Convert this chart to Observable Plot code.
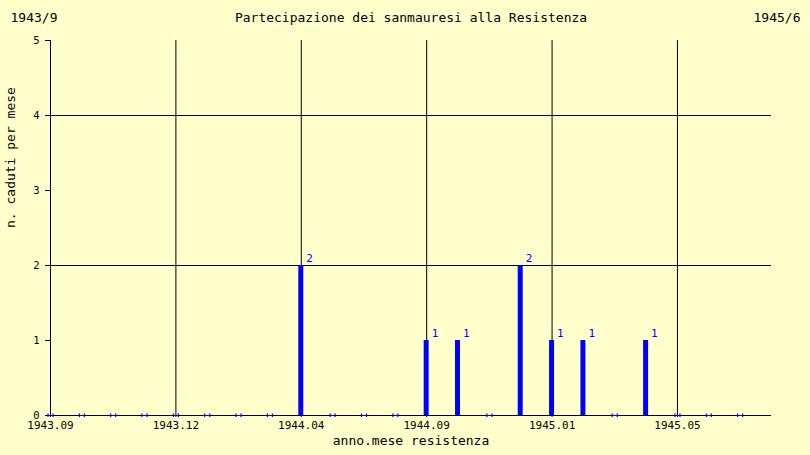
<!DOCTYPE html>
<html><head><meta charset="utf-8">
<script src="https://cdn.jsdelivr.net/npm/d3@7"></script>
<script src="https://cdn.jsdelivr.net/npm/@observablehq/plot@0.6"></script>
<style>body{margin:0;background:#ffffcc}</style>
</head><body><div id="chart"></div>
<script>
// month index from 1943/9
const monthIndex = [0,1,2,3,4,5,6,7,8,9,10,11,12,13,14,15,16,17,18,19,20,21,22];
const caduti     = [0,0,0,0,0,0,0,0,2,0,0,0,1,1,0,2,1,1,0,1,0,0,0];
const tickPos    = [0,4,8,12,16,20];
const tickLabels = ["1943.09","1943.12","1944.04","1944.09","1945.01","1945.05"];
const yTicks     = [0,1,2,3,4,5];
const yGrid      = [2,4];
const titleLeft  = "1943/9";
const titleText  = "Partecipazione dei sanmauresi alla Resistenza";
const titleRight = "1945/6";
const xLabel     = "anno.mese resistenza";
const yLabel     = "n. caduti per mese";

const data = monthIndex.map((m, i) => ({m, n: caduti[i]}));
const bars = data.filter(d => d.n > 0);
const empty = data.filter(d => d.n === 0);

const marker = {
  draw(ctx, size) {
    ctx.moveTo(-2.5, -2); ctx.lineTo(-2.5, 1.5);
    ctx.moveTo(2.5, -2); ctx.lineTo(2.5, 1.5);
    ctx.moveTo(-3, 0); ctx.lineTo(3, 0);
  }
};

const chart = Plot.plot({
  width: 810, height: 455,
  marginLeft: 50, marginRight: 39, marginTop: 40, marginBottom: 40,
  style: {background: "#ffffcc", fontFamily: "DejaVu Sans Mono", fontSize: "11px", color: "black"},
  x: {domain: [0, 23]},
  y: {domain: [0, 5]},
  marks: [
    Plot.gridX(tickPos.slice(1), {stroke: "black", strokeOpacity: 1}),
    Plot.gridY(yGrid, {stroke: "black", strokeOpacity: 1}),
    Plot.axisX(tickPos, {tickSize: 2, tickPadding: 4, label: null, fontSize: 11,
      tickFormat: d => tickLabels[tickPos.indexOf(d)]}),
    Plot.axisY(yTicks, {tickSize: 5, tickPadding: 6, label: null, fontSize: 10.5, tickFormat: "d"}),
    Plot.ruleX([0], {stroke: "black"}),
    Plot.ruleY([0], {stroke: "black"}),
    Plot.dot(empty, {x: "m", y: "n", symbol: marker, stroke: "blue", strokeWidth: 1.2}),
    Plot.ruleX(bars, {x: "m", y1: 0, y2: "n", stroke: "blue", strokeWidth: 5, dx: -0.5}),
    Plot.text(bars, {x: "m", y: "n", text: d => String(d.n), fill: "blue", dx: 5, dy: -7, textAnchor: "start", fontSize: 11}),
    Plot.text([titleLeft], {frameAnchor: "top-left", text: d => d, dx: -40, dy: -28, textAnchor: "start", fontSize: 13}),
    Plot.text([titleText], {frameAnchor: "top", text: d => d, dy: -28, fontSize: 13}),
    Plot.text([titleRight], {frameAnchor: "top-right", text: d => d, dx: 29, dy: -28, textAnchor: "end", fontSize: 13}),
    Plot.text([xLabel], {frameAnchor: "bottom", text: d => d, dy: 29, fontSize: 13}),
    Plot.text([yLabel], {frameAnchor: "left", text: d => d, dx: -40, rotate: -90, fontSize: 13})
  ]
});
document.getElementById("chart").append(chart);
</script>
</body></html>
